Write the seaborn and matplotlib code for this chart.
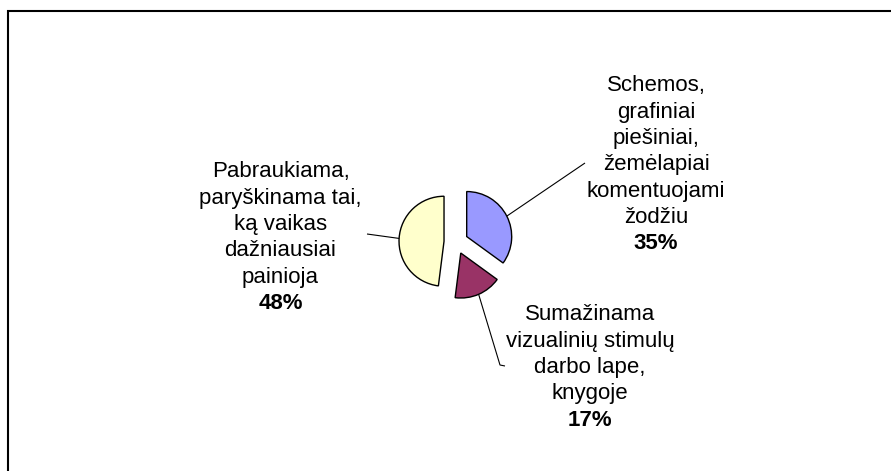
import math
import matplotlib
matplotlib.use("Agg")
import matplotlib.pyplot as plt
from matplotlib.lines import Line2D
import seaborn as sns

# Survey shares of teaching adaptations
labels = [
    "Schemos,\ngrafiniai\npiešiniai,\nžemėlapiai\nkomentuojami\nžodžiu",
    "Sumažinama\nvizualinių stimulų\ndarbo lape,\nknygoje",
    "Pabraukiama,\nparyškinama tai,\nką vaikas\ndažniausiai\npainioja",
]
values = [35, 17, 48]
colors = ["#9999FF", "#993366", "#FFFFCC"]

sns.set_theme(style="white")
plt.rcParams["font.family"] = ["Liberation Sans", "DejaVu Sans"]

W, H = 891, 471
fig = plt.figure(figsize=(W / 100, H / 100), dpi=100)
ax = fig.add_axes([0, 0, 1, 1])

# pie geometry in pixel units (y measured upward)
cx, cy, radius = 456, H - 242, 45
explode_dist = 12
palette = sns.color_palette(colors)

wedges, _ = ax.pie(
    values,
    colors=palette,
    startangle=90,
    counterclock=False,
    radius=radius,
    center=(cx, cy),
    explode=[explode_dist] * len(values),
    wedgeprops=dict(edgecolor="black", linewidth=1.0),
    frame=True,
)
ax.set_xlim(0, W)
ax.set_ylim(0, H)
ax.set_aspect("equal")
ax.axis("off")

# label blocks: text centre x, first line y (from top), leader end points (from top)
label_x = [656, 590, 280.5]
label_top = [86, 315, 172]
leader_ends = [[(585, 163)], [(500, 365), (505, 366)], [(367, 234)]]
line_step = 26.3
fs = 16

for w, lab, val, lx, ly, ends in zip(wedges, labels, values, label_x, label_top, leader_ends):
    mid = math.radians((w.theta1 + w.theta2) / 2)
    wx, wy = w.center
    sx = wx + radius * math.cos(mid)
    sy = wy + radius * math.sin(mid)
    xs = [sx] + [e[0] for e in ends]
    ys = [sy] + [H - e[1] for e in ends]
    ax.plot(xs, ys, color="black", linewidth=0.8, solid_capstyle="butt")

    lines = lab.split("\n") + [f"{val}%"]
    for i, t in enumerate(lines):
        bold = i == len(lines) - 1
        ax.text(lx, H - (ly + i * line_step), t, ha="center", va="center",
                fontsize=fs, fontweight="bold" if bold else "normal",
                color="black")

# chart area border (left and top edges visible)
bx, by = 7.5, 10.5
fig.lines.append(Line2D([bx / W, bx / W, 1.05], [-0.05, 1 - by / H, 1 - by / H],
                        transform=fig.transFigure, color="black", linewidth=1.5,
                        solid_joinstyle="miter"))

fig.savefig("out.png", dpi=100, facecolor="white")
